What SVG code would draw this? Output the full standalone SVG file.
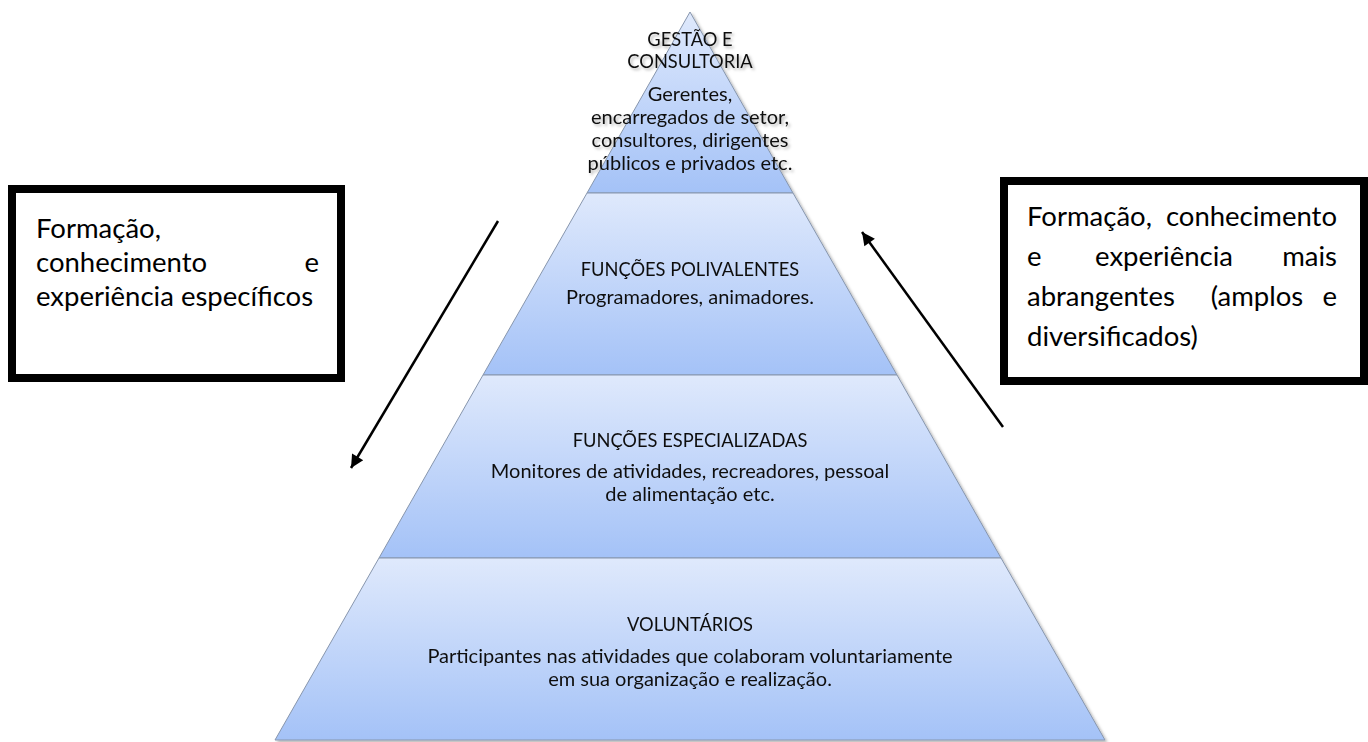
<svg xmlns="http://www.w3.org/2000/svg" width="1368" height="742" viewBox="0 0 1368 742">
<style>
.tier{stroke:#8796ad;stroke-width:1;fill:url(#tg)}
.pt{font-family:Lato,"Liberation Sans",sans-serif;font-size:20px;fill:#111;text-anchor:middle}
.ph{font-family:Lato,"Liberation Sans",sans-serif;font-size:18.3px;fill:#111;text-anchor:middle}
.bx{fill:#fff;stroke:#000;stroke-width:8}
.bt{font-family:Lato,"Liberation Sans",sans-serif;font-size:27.5px;fill:#000}
.arr{stroke:#000;stroke-width:2.5;fill:none;marker-end:url(#ah)}
</style>
<defs>
<linearGradient id="tg" x1="0" y1="0" x2="0" y2="1">
<stop offset="0" stop-color="#dfe9fc"/>
<stop offset="1" stop-color="#a4c2f7"/>
</linearGradient>
<filter id="sh" x="-5%" y="-5%" width="110%" height="110%">
<feDropShadow dx="2" dy="2" stdDeviation="1.5" flood-color="#000" flood-opacity="0.3"/>
</filter>
<marker id="ah" viewBox="0 0 10 10" refX="10" refY="5" markerUnits="userSpaceOnUse" markerWidth="17" markerHeight="13" orient="auto">
<path d="M0,0 L10,5 L0,10 z" fill="#000"/>
</marker>
</defs>
<rect width="1368" height="742" fill="#fff"/>
<g id="pyramid" filter="url(#sh)">
<g id="tier-gestao">
<polygon class="tier" points="690,12 793,193 587,193"/>
<text class="ph" x="690" y="46">GESTÃO E</text>
<text class="ph" x="690" y="68">CONSULTORIA</text>
<text class="pt" x="690" y="101">Gerentes,</text>
<text class="pt" x="690" y="124">encarregados de setor,</text>
<text class="pt" x="690" y="147">consultores, dirigentes</text>
<text class="pt" x="690" y="170">públicos e privados etc.</text>
</g>
<g id="tier-polivalentes">
<polygon class="tier" points="587,193 793,193 897,375 483,375"/>
<text class="ph" x="690" y="276">FUNÇÕES POLIVALENTES</text>
<text class="pt" x="690" y="304">Programadores, animadores.</text>
</g>
<g id="tier-especializadas">
<polygon class="tier" points="483,375 897,375 1001,558 379,558"/>
<text class="ph" x="690" y="447">FUNÇÕES ESPECIALIZADAS</text>
<text class="pt" x="690" y="478">Monitores de atividades, recreadores, pessoal</text>
<text class="pt" x="690" y="501">de alimentação etc.</text>
</g>
<g id="tier-voluntarios">
<polygon class="tier" points="379,558 1001,558 1105,740 275,740"/>
<text class="ph" x="690" y="631">VOLUNTÁRIOS</text>
<text class="pt" x="690" y="663">Participantes nas atividades que colaboram voluntariamente</text>
<text class="pt" x="690" y="686">em sua organização e realização.</text>
</g>
</g>
<g id="box-left">
<rect class="bx" x="12" y="189" width="329" height="189"/>
<text class="bt" x="36" y="238">Formação,</text>
<text class="bt" x="36" y="272">conhecimento</text>
<text class="bt" x="319" y="272" text-anchor="end">e</text>
<text class="bt" x="36" y="306">experiência específicos</text>
</g>
<g id="box-right">
<rect class="bx" x="1004" y="181" width="360" height="200"/>
<text class="bt" x="1027" y="226">Formação,</text>
<text class="bt" x="1337" y="226" text-anchor="end">conhecimento</text>
<text class="bt" x="1027" y="266">e</text>
<text class="bt" x="1164" y="266" text-anchor="middle">experiência</text>
<text class="bt" x="1337" y="266" text-anchor="end">mais</text>
<text class="bt" x="1027" y="306">abrangentes</text>
<text class="bt" x="1257" y="306" text-anchor="middle">(amplos</text>
<text class="bt" x="1337" y="306" text-anchor="end">e</text>
<text class="bt" x="1027" y="346">diversificados)</text>
</g>
<g id="connectors">
<line class="arr" x1="498" y1="221" x2="351" y2="468"/>
<line class="arr" x1="1003" y1="427" x2="862" y2="232"/>
</g>
</svg>
